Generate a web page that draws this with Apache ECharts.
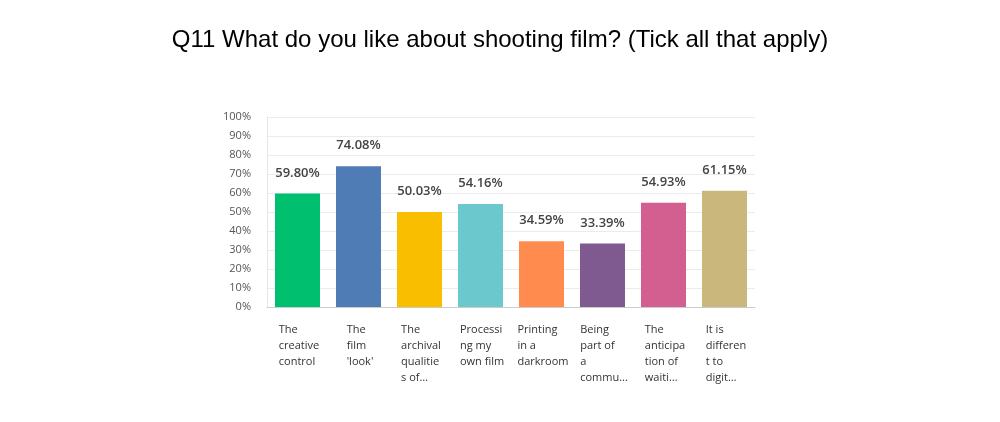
<!DOCTYPE html>
<html>
<head>
<meta charset="utf-8">
<script src="https://cdn.jsdelivr.net/npm/echarts@6/dist/echarts.min.js"></script>
<style>
  html, body { margin: 0; padding: 0; background: #fff; }
  #chart { width: 1000px; height: 422px; }
</style>
</head>
<body>
<div id="chart"></div>
<script>
const titleText = 'Q11 What do you like about shooting film? (Tick all that apply)'
const categories = [
  'The\ncreative\ncontrol',
  'The\nfilm\n\'look\'',
  'The\narchival\nqualitie\ns of…',
  'Processi\nng my\nown film',
  'Printing\nin a\ndarkroom',
  'Being\npart of\na\ncommu…',
  'The\nanticipa\ntion of\nwaiti…',
  'It is\ndifferen\nt to\ndigit…'
]
const values = [59.80, 74.08, 50.03, 54.16, 34.59, 33.39, 54.93, 61.15]
const colors = ['#00BF6F', '#507CB6', '#F9BE00', '#6BC8CD', '#FF8B4F', '#7F5A90', '#D25F90', '#C9B77B']

const labelFont = '"Open Sans", Lato, sans-serif'

var chart = echarts.init(document.getElementById('chart'))
chart.setOption({
  animation: false,
  title: {
    text: titleText, left: 'center', top: 23,
    textStyle: { fontFamily: '"Liberation Sans", Arial, sans-serif', fontSize: 24, fontWeight: 'normal', color: '#000' }
  },
  grid: { left: 267, right: 245, top: 117, bottom: 115, containLabel: false },
  xAxis: {
    type: 'category',
    data: categories,
    axisLine: { lineStyle: { color: '#cccccc' } },
    axisTick: { show: false },
    axisLabel: {
      interval: 0, margin: 15, align: 'center', padding: [0, 0, 0, 3],
      // left-aligned lines inside a centred block
      formatter: v => v.split('\n').map(s => '{a|' + s + '}').join('\n'),
      rich: { a: { align: 'left', fontFamily: labelFont, fontSize: 11, lineHeight: 16, color: '#333' } }
    }
  },
  yAxis: {
    type: 'value', min: 0, max: 100, interval: 10,
    axisLine: { show: true, lineStyle: { color: '#e6e6e6' } },
    axisTick: { show: false },
    splitLine: { lineStyle: { color: '#ebebeb' } },
    axisLabel: { formatter: '{value}%', fontFamily: labelFont, fontSize: 11, color: '#555', margin: 16 }
  },
  series: [{
    type: 'bar',
    barWidth: 45,
    data: values.map((v, i) => ({ value: v, itemStyle: { color: colors[i] } })),
    label: {
      show: true, position: 'top', distance: 14,
      formatter: p => p.value.toFixed(2) + '%',
      fontFamily: labelFont, fontSize: 13, fontWeight: 600, color: '#444'
    }
  }]
})
</script>
</body>
</html>
